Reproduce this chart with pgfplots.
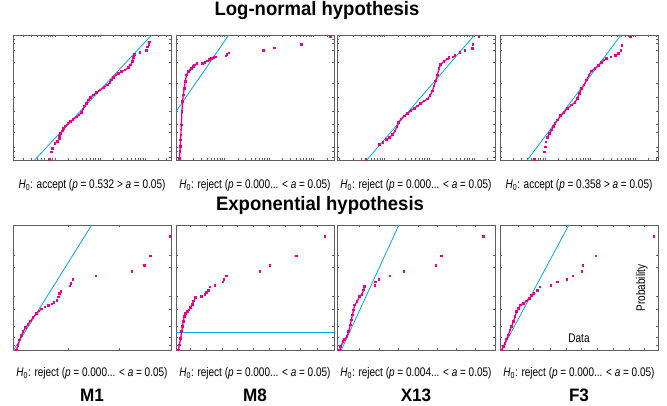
\documentclass[border=0pt]{standalone}
\usepackage{pgfplots}
\pgfplotsset{compat=1.18}
\usepackage{fontspec}
\setmainfont{Liberation Sans}[FakeStretch=0.80]
\newfontfamily\titlefont{Liberation Sans}[FakeStretch=0.95]

\definecolor{cyanline}{RGB}{0,170,230}
\definecolor{mag}{RGB}{236,0,140}
\definecolor{framegray}{RGB}{95,95,95}

\pgfplotsset{
  panel/.style={
    scale only axis, width=158pt, height=125pt,
    anchor=south west,
    ymin=30, ymax=405, y dir=reverse,
    xticklabels={}, yticklabels={},
    axis line style={framegray, line width=0.8pt},
    tick style={framegray, line width=0.5pt},
    major tick length=2.2pt,
  },
  toprow/.style={
    xtick={30,70.6,94.4,111.3,124.4,135,144.1,151.9,158.8,
           165,205.6,229.4,246.3,259.4,270,279.1,286.9,293.8,
           300,340.6,364.4,381.3,394.4,405,414.1,421.9,428.8,
           435,475.6,499.4},
    ytick={42,55,75,113,175,217,260,298,322,367,380,396},
  },
  botrow/.style={ytick={122,158,245,283,333,368,392}},
  fit/.style={cyanline, line width=0.8pt},
  dense/.style={mag, line width=1.3pt, mark=square*, mark size=0.7pt},
  dots/.style={mag, only marks, mark=square*, mark size=0.75pt},
}

\begin{document}
\begin{tikzpicture}
\path[use as bounding box] (0,0) rectangle (667pt,406pt);

% ---------- Log-normal hypothesis ----------
\begin{axis}[panel, toprow, at={(13pt,246pt)}, xmin=40, xmax=513]
  \addplot[fit] coordinates {(105,405) (455,30)};
  \addplot[dense] coordinates {
    (180,335) (183,325) (188,318) (192,310) (198,303) (205,296) (212,290)
    (220,283) (230,276) (238,270) (245,262) (250,252) (255,243) (260,235)
    (265,225) (272,218) (280,210) (290,203) (300,195) (312,187) (322,180)
    (330,172) (335,165) (340,158) (348,150) (355,145) (365,140) (375,135)
    (385,128) (392,120) (397,110) (400,98)};
  \addplot[dots] coordinates {
    (150,402) (155,380) (158,370) (165,355) (172,348) (178,340)
    (403,88) (420,82) (438,75) (442,65) (446,57) (448,50)};
\end{axis}

\begin{axis}[panel, toprow, at={(176pt,246pt)}, xmin=18, xmax=497]
  \addplot[fit] coordinates {(18,260) (178,30)};
  \addplot[dense] coordinates {
    (28,400) (30,380) (31,365) (32,345) (33,330) (34,300) (36,260) (38,230)
    (40,210) (43,190) (46,170) (50,150) (55,140) (60,135) (65,130) (70,125)
    (75,120) (82,115)};
  \addplot[dots] coordinates {
    (98,115) (105,112) (112,107) (118,103) (125,100) (133,97) (138,95)
    (168,92) (172,88) (178,83) (283,76) (315,68) (397,57) (485,33)};
\end{axis}

\begin{axis}[panel, toprow, at={(337pt,246pt)}, xmin=22, xmax=499]
  \addplot[fit] coordinates {(112,405) (437,30)};
  \addplot[dense] coordinates {
    (172,343) (180,338) (190,328) (197,318) (203,305) (208,293) (215,282)
    (225,273) (235,265) (245,257) (255,250) (265,243) (275,235) (285,228)
    (295,222) (303,212) (310,198) (315,183) (320,168) (325,150) (330,130)
    (335,118) (345,110) (355,102) (360,98)};
  \addplot[dots] coordinates {
    (108,402) (150,358) (160,352) (372,95) (378,90) (392,82) (408,75)
    (430,70) (432,58) (450,33)};
\end{axis}

\begin{axis}[panel, toprow, at={(500pt,246pt)}, xmin=30, xmax=504]
  \addplot[fit] coordinates {(112,405) (393,30)};
  \addplot[dense] coordinates {
    (172,338) (178,325) (185,315) (190,305) (195,295) (203,285) (212,272)
    (222,262) (232,250) (245,240) (255,232) (262,220) (268,205) (275,190)
    (282,180) (290,165) (297,150) (305,138) (315,130) (325,122) (335,112)
    (342,105) (350,100)};
  \addplot[dots] coordinates {
    (133,402) (163,380) (165,365) (167,350) (362,95) (375,90) (385,85)
    (392,75) (395,60) (420,35)};
\end{axis}

% ---------- Exponential hypothesis ----------
\begin{axis}[panel, botrow, at={(13pt,56pt)}, xmin=40, xmax=512, xtick={205,358}]
  \addplot[fit] coordinates {(42,405) (275,30)};
  \addplot[dense] coordinates {
    (50,405) (55,392) (60,375) (65,362) (70,350) (78,338) (85,328) (92,318)
    (100,308) (110,295) (118,288) (125,282)};
  \addplot[dots] coordinates {
    (135,275) (145,270) (155,266) (162,262) (170,255) (175,245) (178,235)
    (182,228) (210,212) (212,205) (218,193) (287,182) (395,168) (432,150)
    (450,122) (508,63)};
\end{axis}

\begin{axis}[panel, botrow, at={(176pt,56pt)}, xmin=18, xmax=497,
    xtick={62,110,158,205,253,300,348,395,445}]
  \addplot[cyanline, line width=1.3pt] coordinates {(18,353) (497,353)};
  \addplot[dense] coordinates {
    (25,405) (28,390) (32,370) (35,350) (38,335) (40,320) (43,305) (47,295)
    (52,290) (57,285) (62,278) (67,268) (72,258) (77,248)};
  \addplot[dots] coordinates {
    (95,243) (105,238) (110,232) (115,225) (120,215) (135,210) (160,200)
    (163,192) (170,182) (272,168) (302,150) (382,122) (469,63)};
\end{axis}

\begin{axis}[panel, botrow, at={(337pt,56pt)}, xmin=22, xmax=497,
    xtick={88,148,205,265,322,380,438}]
  \addplot[fit] coordinates {(35,405) (208,30)};
  \addplot[dense] coordinates {
    (30,405) (33,395) (40,380) (45,373) (52,365) (57,350) (62,330) (65,315)
    (68,300) (72,285) (75,270) (82,260) (90,245) (97,238) (102,225) (105,215)};
  \addplot[dots] coordinates {
    (135,210) (137,200) (148,192) (180,182) (222,168) (318,150) (335,122)
    (462,63)};
\end{axis}

\begin{axis}[panel, botrow, at={(500pt,56pt)}, xmin=30, xmax=505,
    xtick={85,130,180,228,275,323,370,420,465}]
  \addplot[fit] coordinates {(35,405) (237,30)};
  \addplot[dense] coordinates {
    (35,405) (40,395) (45,385) (50,372) (55,360) (60,345) (65,335) (70,320)
    (75,305) (80,290) (85,280) (92,270) (100,265) (110,258) (118,250)
    (125,242) (132,235)};
  \addplot[dots] coordinates {
    (142,225) (150,215) (182,210) (202,200) (230,192) (248,182) (275,168)
    (278,150) (317,122) (492,63)};
\end{axis}

% ---------- texts ----------
\node[font=\titlefont\fontsize{19.5}{22}\selectfont\bfseries] at (317pt,395pt) {Log-normal hypothesis};
\node[font=\titlefont\fontsize{19.5}{22}\selectfont\bfseries] at (320pt,201pt) {Exponential hypothesis};

\begin{scope}[every node/.style={font=\fontsize{12.5}{14}\selectfont}]
\node at (92pt,221pt)  {\textit{H}\textsubscript{0}: accept (\textit{p} = 0.532 > \textit{a} = 0.05)};
\node at (255pt,221pt) {\textit{H}\textsubscript{0}: reject (\textit{p} = 0.000... < \textit{a} = 0.05)};
\node at (416pt,221pt) {\textit{H}\textsubscript{0}: reject (\textit{p} = 0.000... < \textit{a} = 0.05)};
\node at (579pt,221pt) {\textit{H}\textsubscript{0}: accept (\textit{p} = 0.358 > \textit{a} = 0.05)};
\node at (92pt,33pt)  {\textit{H}\textsubscript{0}: reject (\textit{p} = 0.000... < \textit{a} = 0.05)};
\node at (255pt,33pt) {\textit{H}\textsubscript{0}: reject (\textit{p} = 0.000... < \textit{a} = 0.05)};
\node at (416pt,33pt) {\textit{H}\textsubscript{0}: reject (\textit{p} = 0.004... < \textit{a} = 0.05)};
\node at (579pt,33pt) {\textit{H}\textsubscript{0}: reject (\textit{p} = 0.000... < \textit{a} = 0.05)};
\node at (579pt,68pt) {Data};
\node[rotate=90] at (642pt,118pt) {Probability};
\end{scope}

\begin{scope}[every node/.style={font=\titlefont\fontsize{18}{21}\selectfont\bfseries}]
\node at (92pt,11pt)  {M1};
\node at (255pt,11pt) {M8};
\node at (416pt,11pt) {X13};
\node at (579pt,11pt) {F3};
\end{scope}
\end{tikzpicture}
\end{document}
